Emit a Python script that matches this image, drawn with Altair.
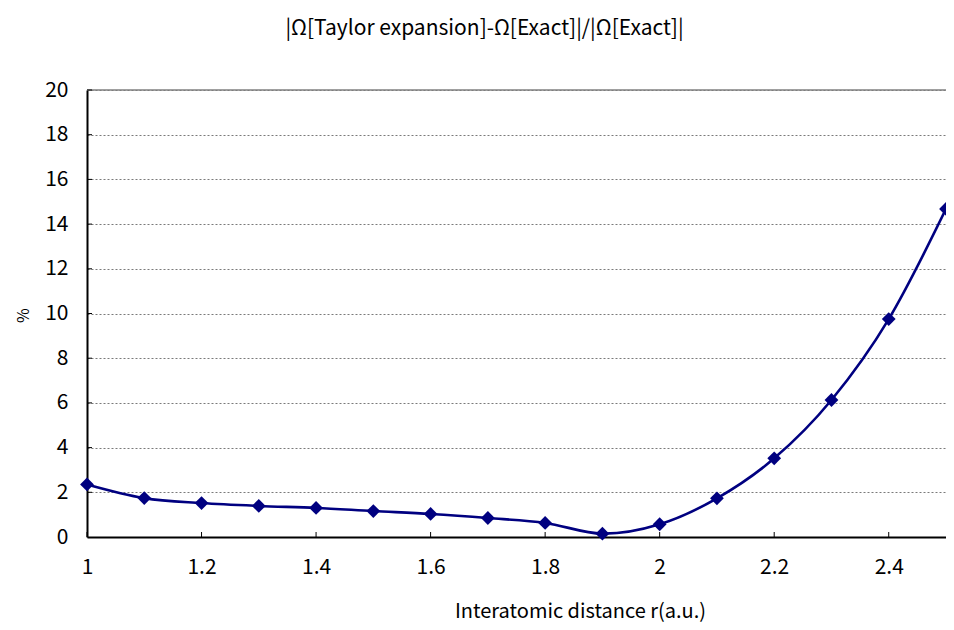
import altair as alt
import pandas as pd

# ---- data ----
r_values = [1.0, 1.1, 1.2, 1.3, 1.4, 1.5, 1.6, 1.7, 1.8, 1.9, 2.0, 2.1, 2.2, 2.3, 2.4, 2.5]
pct_values = [2.35, 1.74, 1.52, 1.39, 1.30, 1.16, 1.03, 0.85, 0.63, 0.15, 0.57, 1.73, 3.52, 6.13, 9.75, 14.68]
x_tick_values = [1.0, 1.2, 1.4, 1.6, 1.8, 2.0, 2.2, 2.4]
y_tick_values = [0, 2, 4, 6, 8, 10, 12, 14, 16, 18, 20]
top_value = [20]

title_text = "|Ω[Taylor expansion]-Ω[Exact]|/|Ω[Exact]|"
x_title = "Interatomic distance r(a.u.)"
y_title = "%"

df = pd.DataFrame({"r": r_values, "pct": pct_values})
xt = pd.DataFrame({"t": x_tick_values})
yt = pd.DataFrame({"t": y_tick_values[1:]})
top = pd.DataFrame({"t": top_value})

FONT = "Noto Sans CJK JP"
NAVY = "#000080"

xscale = alt.Scale(domain=[1, 2.5], nice=False, zero=False)
yscale = alt.Scale(domain=[0, 20], nice=False)

x_axis = alt.Axis(
    values=x_tick_values, format="~g", title=x_title, grid=False,
    ticks=False, tickSize=0, labelPadding=30, labelBaseline="middle", labelFlush=False,
    domainColor="black", domainWidth=2,
    labelFont=FONT, labelFontSize=21, labelColor="black",
    titleFont=FONT, titleFontSize=20, titleFontWeight="normal", titleColor="black",
    titleX=493, titleY=74, titleBaseline="middle", titleAlign="center",
)
y_axis = alt.Axis(
    values=y_tick_values, title=y_title, grid=True, gridDash=[2, 2], gridColor="#7a7a7a", gridWidth=1,
    ticks=False, tickSize=0, labelPadding=19,
    domainColor="black", domainWidth=2,
    labelFont=FONT, labelFontSize=21, labelColor="black",
    titleFont=FONT, titleFontSize=16, titleFontWeight="normal", titleColor="black",
    titleAngle=270, titleX=-64, titleY=225, titleBaseline="middle", titleAlign="center",
)

top_rule = alt.Chart(top).mark_rule(color="#808080", strokeWidth=1.5).encode(
    y=alt.Y("t:Q", scale=yscale, axis=y_axis)
)

x_ticks = alt.Chart(xt).mark_rule(color="black", strokeWidth=1, y2Offset=-5).encode(
    x=alt.X("t:Q", scale=xscale, axis=x_axis),
    y=alt.datum(0, scale=yscale, axis=y_axis),
    y2=alt.datum(0),
)

y_ticks = alt.Chart(yt).mark_rule(color="black", strokeWidth=1, x2Offset=5).encode(
    y=alt.Y("t:Q", scale=yscale, axis=y_axis),
    x=alt.datum(1, scale=xscale, axis=x_axis),
    x2=alt.datum(1),
)

base_line = alt.Chart(df).mark_line(
    color=NAVY, strokeWidth=2.6, interpolate="cardinal", tension=0
).encode(
    x=alt.X("r:Q", scale=xscale, axis=x_axis),
    y=alt.Y("pct:Q", scale=yscale, axis=y_axis),
)

points = alt.Chart(df).mark_point(
    shape="diamond", filled=True, size=190, color=NAVY, opacity=1
).encode(
    x=alt.X("r:Q", scale=xscale, axis=x_axis),
    y=alt.Y("pct:Q", scale=yscale, axis=y_axis),
)

chart = alt.layer(top_rule, x_ticks, y_ticks, base_line, points).properties(
    width=859,
    height=447,
    autosize=alt.AutoSizeParams(type="none"),
    padding={"left": 79, "top": 82, "right": 0, "bottom": 85},
    title=alt.TitleParams(
        text=title_text, font=FONT, fontSize=21, fontWeight="normal", color="black",
        anchor="middle", dx=-32, offset=40,
    ),
).configure_view(stroke=None)

chart.save("out.html", embed_options={"renderer": "svg", "actions": False})
